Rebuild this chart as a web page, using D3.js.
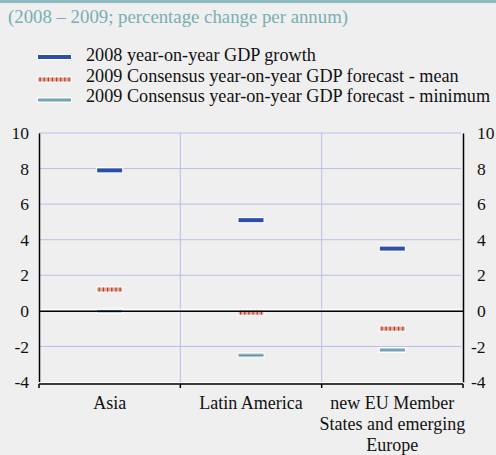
<!DOCTYPE html>
<html><head><meta charset="utf-8">
<script src="https://cdn.jsdelivr.net/npm/d3@7"></script>
<style>
html,body{margin:0;padding:0;background:#efefef;}
svg{display:block;}
</style></head>
<body>
<svg id="chart" width="496" height="455"></svg>
<script>
const categories = ["Asia", "Latin America", "new EU Member States and emerging Europe"];
const categoryLines = [["Asia"], ["Latin America"], ["new EU Member", "States and emerging", "Europe"]];
const gdp2008 = [7.9, 5.1, 3.5];
const forecastMean2009 = [1.2, -0.1, -1.0];
const forecastMin2009 = [0.0, -2.5, -2.2];
const yTicks = [10, 8, 6, 4, 2, 0, -2, -4];
const seriesNames = ["2008 year-on-year GDP growth", "2009 Consensus year-on-year GDP forecast - mean", "2009 Consensus year-on-year GDP forecast - minimum"];
const subtitle = "(2008 \u2013 2009; percentage change per annum)";

(function () {
const FONT = "'Liberation Serif', 'Times New Roman', 'DejaVu Serif', serif";
const svg = d3.select("#chart").attr("font-family", FONT);
const pL = 39, pR = 463, pT = 133, pB = 382;
const x = d3.scaleBand().domain(categories).range([pL, pR]).padding(0);
const y = d3.scaleLinear().domain([-4, 10]).range([pB, pT]);

svg.append("rect").attr("x", 0).attr("y", 0).attr("width", 496).attr("height", 3).attr("fill", "#8dbcc3");
svg.append("text").attr("x", 8).attr("y", 23).attr("font-family", FONT).attr("font-size", 18.8).attr("fill", "#78aeb4").text(subtitle);

const lg = svg.append("g");
const legY = [57, 79.5, 100];
const legTextY = [61, 82, 102];
function meanSwatch(g, cx, cy, w) {
  g.append("rect").attr("x", cx - w/2 - 1).attr("y", cy - 3).attr("width", w + 2).attr("height", 6).attr("fill", "#fff");
  g.append("rect").attr("x", cx - w/2).attr("y", cy - 2).attr("width", w).attr("height", 4).attr("fill", "#e3a896");
  const n = Math.floor(w / 4);
  for (let i = 0; i < n; i++) {
    g.append("rect").attr("x", cx - w/2 + 1.5 + i * (w / n)).attr("y", cy - 2).attr("width", 1.2).attr("height", 4).attr("fill", "#b83a2c");
  }
}
function minSwatch(g, cx, cy, w) {
  g.append("rect").attr("x", cx - w/2 - 1).attr("y", cy - 3).attr("width", w + 2).attr("height", 6).attr("fill", "#fff");
  g.append("rect").attr("x", cx - w/2).attr("y", cy - 2).attr("width", w).attr("height", 4).attr("fill", "#b5d0dc");
  g.append("rect").attr("x", cx - w/2).attr("y", cy - 0.7).attr("width", w).attr("height", 1.4).attr("fill", "#5f8e9c");
}
function blueSwatch(g, cx, cy, w) {
  g.append("rect").attr("x", cx - w/2 - 1).attr("y", cy - 3).attr("width", w + 2).attr("height", 6).attr("fill", "#fff");
  g.append("rect").attr("x", cx - w/2).attr("y", cy - 2).attr("width", w).attr("height", 4).attr("fill", "#2d4fa8");
}
const swatchFns = [blueSwatch, meanSwatch, minSwatch];
seriesNames.forEach((name, i) => {
  swatchFns[i](lg, 54.5, legY[i], 33);
  lg.append("text").attr("x", 86).attr("y", legTextY[i]).attr("font-family", FONT).attr("font-size", 18.2).attr("fill", "#111").text(name);
});

const grid = svg.append("g");
yTicks.filter(t => t !== 0 && t !== -4).forEach(t => {
  grid.append("line").attr("x1", pL).attr("x2", pR - 2).attr("y1", y(t)).attr("y2", y(t))
    .attr("stroke", "#b9bee9").attr("stroke-width", 1);
});
categories.slice(1).forEach(c => {
  grid.append("line").attr("x1", x(c)).attr("x2", x(c)).attr("y1", pT).attr("y2", pB)
    .attr("stroke", "#b9bee9").attr("stroke-width", 1);
});

const marks = svg.append("g");
const mw = 25;
categories.forEach((c, i) => {
  const cx = x(c) + x.bandwidth() / 2;
  blueSwatch(marks, cx, y(gdp2008[i]), mw);
  meanSwatch(marks, cx, y(forecastMean2009[i]), mw);
  minSwatch(marks, cx, y(forecastMin2009[i]), mw);
});

svg.append("line").attr("x1", pL).attr("x2", pR).attr("y1", y(0) - 1.5).attr("y2", y(0) - 1.5).attr("stroke", "#fff").attr("stroke-width", 1);
svg.append("line").attr("x1", pL).attr("x2", pR).attr("y1", y(0) + 0.5).attr("y2", y(0) + 0.5).attr("stroke", "#000").attr("stroke-width", 1.5);

const fmt = d => String(d);
const yAxisL = d3.axisLeft(y).tickValues(yTicks).tickSize(0).tickPadding(10).tickFormat(fmt);
const yAxisR = d3.axisRight(y).tickValues(yTicks).tickSize(0).tickPadding(14).tickFormat(fmt);
const gl = svg.append("g").attr("transform", `translate(${pL},0)`).call(yAxisL);
const gr = svg.append("g").attr("transform", `translate(${pR},0)`).call(yAxisR);
[gl, gr].forEach(g => {
  g.attr("font-family", FONT).attr("font-size", 17.5);
  g.select(".domain").attr("stroke", "#000").attr("stroke-width", 1.5);
  g.selectAll("text").attr("fill", "#111");
});
gr.selectAll(".tick text").attr("dx", d => d < 0 ? -6 : 0);

const xAxisY = pB + 2;
svg.append("line").attr("x1", pL).attr("x2", pR).attr("y1", xAxisY - 1.5).attr("y2", xAxisY - 1.5).attr("stroke", "#fff").attr("stroke-width", 1);
svg.append("line").attr("x1", pL).attr("x2", pR).attr("y1", xAxisY).attr("y2", xAxisY).attr("stroke", "#000").attr("stroke-width", 1.5);
const boundaries = categories.map(c => x(c)).concat([pR]);
boundaries.forEach(bx => {
  svg.append("line").attr("x1", bx).attr("x2", bx).attr("y1", xAxisY).attr("y2", xAxisY + 4).attr("stroke", "#000").attr("stroke-width", 1.5);
});
categories.forEach((c, i) => {
  const t = svg.append("text").attr("x", x(c) + x.bandwidth() / 2).attr("y", 409).attr("text-anchor", "middle")
    .attr("font-family", FONT).attr("font-size", 18).attr("fill", "#111");
  categoryLines[i].forEach((ln, j) => {
    t.append("tspan").attr("x", x(c) + x.bandwidth() / 2).attr("dy", j === 0 ? 0 : 21).text(ln);
  });
});
})();
</script>
</body></html>
